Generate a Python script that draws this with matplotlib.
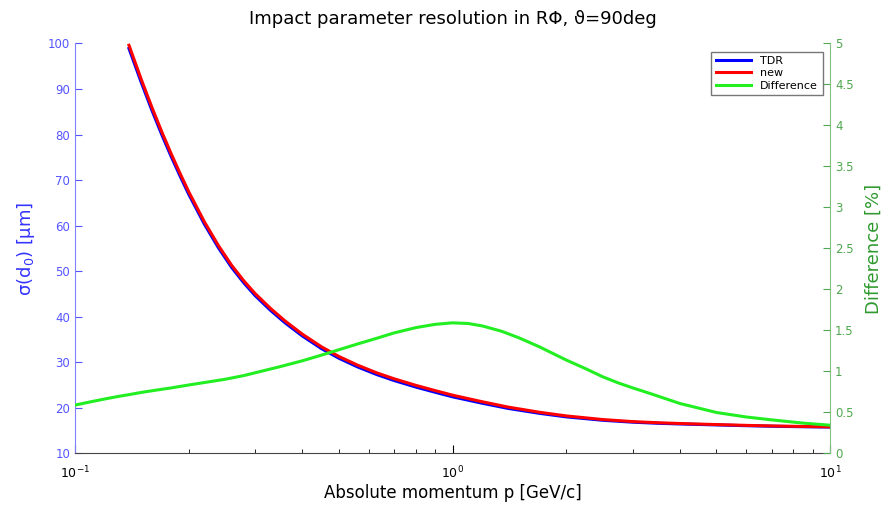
import matplotlib
matplotlib.use("Agg")
import matplotlib.pyplot as plt
from matplotlib.ticker import FormatStrFormatter, MultipleLocator

# momentum grid for the resolution curves [GeV/c]
p_sigma = [0.139, 0.15, 0.16, 0.17, 0.18, 0.19, 0.2, 0.22, 0.24, 0.26,
           0.28, 0.3, 0.33, 0.36, 0.4, 0.45, 0.5, 0.56, 0.63, 0.7,
           0.8, 0.9, 1.0, 1.2, 1.4, 1.7, 2.0, 2.5, 3.0, 3.5,
           4.0, 5.0, 6.0, 7.0, 8.5, 10.0]
# sigma(d0) in um
sigma_tdr = [98.89, 91.32, 85.25, 79.87, 75.10, 70.82, 66.94, 60.38, 55.11, 50.83,
             47.45, 44.66, 41.37, 38.69, 35.80, 33.00, 30.91, 29.01, 27.32, 26.02,
             24.57, 23.43, 22.44, 21.02, 19.91, 18.81, 18.04, 17.29, 16.87, 16.63,
             16.48, 16.27, 16.10, 15.98, 15.87, 15.80]
sigma_new = [99.6, 92.0, 85.9, 80.5, 75.7, 71.4, 67.5, 60.9, 55.6, 51.3,
             47.9, 45.1, 41.8, 39.1, 36.2, 33.4, 31.3, 29.4, 27.7, 26.4,
             24.95, 23.8, 22.8, 21.35, 20.2, 19.05, 18.25, 17.45, 17.0, 16.75,
             16.58, 16.35, 16.17, 16.05, 15.93, 15.85]

# relative difference in %
p_diff = [0.1, 0.11, 0.12, 0.13, 0.14, 0.15, 0.16, 0.18, 0.2, 0.22,
          0.25, 0.28, 0.31, 0.35, 0.4, 0.45, 0.5, 0.56, 0.63, 0.7,
          0.8, 0.9, 1.0, 1.1, 1.2, 1.35, 1.5, 1.7, 2.0, 2.25,
          2.5, 2.75, 3.0, 3.33, 4.0, 5.0, 6.0, 7.0, 8.5, 10.0]
diff = [0.59, 0.63, 0.665, 0.695, 0.72, 0.745, 0.765, 0.80, 0.835, 0.865,
        0.905, 0.95, 1.0, 1.06, 1.13, 1.2, 1.265, 1.335, 1.405, 1.47,
        1.535, 1.575, 1.593, 1.585, 1.555, 1.49, 1.41, 1.30, 1.14, 1.035,
        0.935, 0.86, 0.80, 0.733, 0.61, 0.50, 0.445, 0.41, 0.37, 0.345]

left_col = '#5555ff'
right_col = '#4fa84f'

fig = plt.figure(figsize=(8.84, 5.05), dpi=100)
ax = fig.add_axes([0.0848, 0.102, 0.8542, 0.812])
ax2 = ax.twinx()

l1, = ax.plot(p_sigma, sigma_tdr, color='#0000ff', lw=2.2, label='TDR')
l2, = ax.plot(p_sigma, sigma_new, color='#ff0000', lw=2.2, label='new')
l3, = ax2.plot(p_diff, diff, color='#22ee22', lw=2.2, label='Difference')

ax.set_xscale('log')
ax.set_xlim(0.1, 10)
ax.set_ylim(10, 100)
ax2.set_ylim(0, 5)

ax.yaxis.set_major_locator(MultipleLocator(10))
ax2.yaxis.set_major_locator(MultipleLocator(0.5))
ax2.yaxis.set_major_formatter(FormatStrFormatter('%g'))

# spines like the matlab plotyy look
for a in (ax, ax2):
    a.spines['top'].set_visible(False)
ax.spines['right'].set_visible(False)
ax2.spines['left'].set_visible(False)
ax2.spines['bottom'].set_visible(False)
ax.spines['left'].set_color('#8080ff')
ax2.spines['right'].set_color('#80c080')
ax.spines['bottom'].set_color('#444444')

ax.tick_params(axis='y', direction='in', colors=left_col, labelsize=8.5, length=5)
ax.tick_params(axis='x', which='both', direction='in', labelsize=9, pad=8)
ax.tick_params(axis='x', which='major', length=6)
ax.tick_params(axis='x', which='minor', length=3)
ax2.tick_params(axis='y', direction='in', colors=right_col, labelsize=8.5, length=5)

ax.set_ylabel('\u03c3(d$_0$) [\u00b5m]', color='#3333ff', fontsize=13, labelpad=8)
ax2.set_ylabel('Difference [%]', color='#2f9a2f', fontsize=13, labelpad=8)
ax.set_xlabel('Absolute momentum p [GeV/c]', fontsize=12, labelpad=2)
ax.set_title('Impact parameter resolution in R\u03a6, \u03d1=90deg', fontsize=13, pad=14)

leg = ax.legend(handles=[l1, l2, l3], loc='upper right', bbox_to_anchor=(0.99, 0.98),
                fontsize=8, frameon=True, fancybox=False, borderaxespad=0,
                handlelength=3.2, labelspacing=0.2)
leg.get_frame().set_edgecolor('#555555')
leg.get_frame().set_linewidth(1.0)

fig.savefig('out.png', dpi=100)
